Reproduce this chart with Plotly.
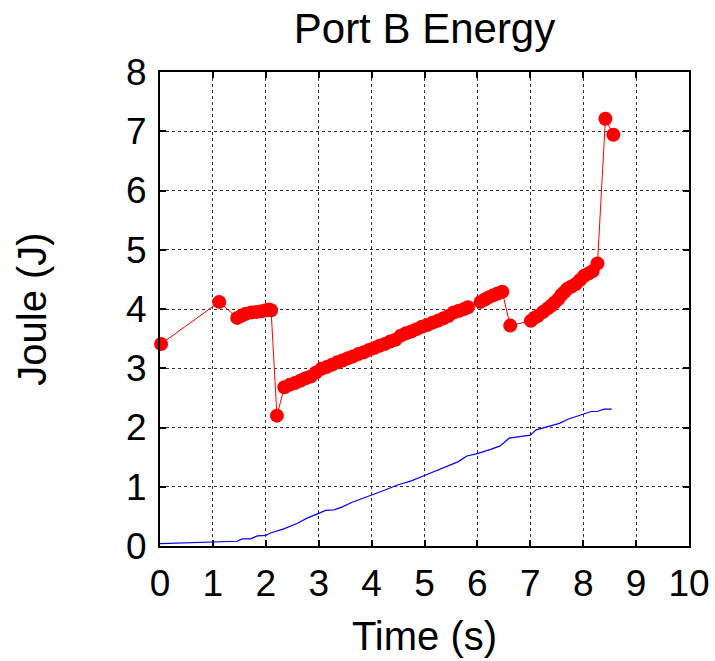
import plotly.graph_objects as go

# Red series (marker + thin line)
red_t = [0.02, 1.12, 1.46, 1.55, 1.62, 1.72, 1.82, 1.92, 2.00, 2.06, 2.10, 2.21,
         2.35, 2.45, 2.55, 2.65, 2.75, 2.85, 2.95, 3.05, 3.15, 3.25, 3.35, 3.45,
         3.55, 3.65, 3.75, 3.85, 3.95, 4.05, 4.15, 4.25, 4.35, 4.45, 4.55, 4.65,
         4.75, 4.85, 4.95, 5.05, 5.15, 5.25, 5.35, 5.45, 5.55, 5.65, 5.75, 5.82,
         6.06, 6.14, 6.22, 6.30, 6.38, 6.47, 6.62,
         7.01, 7.08, 7.14, 7.24, 7.33, 7.40, 7.46, 7.53, 7.59, 7.65, 7.70, 7.78,
         7.86, 7.94, 8.02, 8.10, 8.18, 8.27, 8.42, 8.57]
red_e = [3.41, 4.12, 3.85, 3.89, 3.92, 3.94, 3.95, 3.96, 3.98, 3.99, 3.98, 2.20,
         2.68, 2.72, 2.75, 2.79, 2.83, 2.86, 2.93, 2.99, 3.02, 3.06, 3.10, 3.13,
         3.17, 3.20, 3.24, 3.27, 3.31, 3.34, 3.38, 3.41, 3.45, 3.48, 3.55, 3.59,
         3.62, 3.66, 3.70, 3.73, 3.77, 3.80, 3.84, 3.88, 3.94, 3.97, 4.00, 4.03,
         4.12, 4.16, 4.20, 4.23, 4.26, 4.29, 3.72,
         3.80, 3.85, 3.88, 3.95, 4.01, 4.06, 4.11, 4.17, 4.24, 4.29, 4.34, 4.38,
         4.42, 4.49, 4.56, 4.60, 4.64, 4.77, 7.21, 6.94]

# Blue series (thin line)
blue_t = [0.00, 1.00, 1.46, 1.55, 1.71, 1.84, 2.00, 2.09, 2.34, 2.59, 2.78, 3.00,
          3.13, 3.29, 3.45, 3.61, 3.80, 4.00, 4.24, 4.49, 4.75, 5.00, 5.31, 5.63,
          5.80, 6.00, 6.25, 6.43, 6.60, 7.00, 7.11, 7.33, 7.55, 7.71, 8.00, 8.15,
          8.26, 8.40, 8.54]
blue_e = [0.04, 0.07, 0.08, 0.12, 0.12, 0.17, 0.18, 0.22, 0.29, 0.38, 0.47, 0.55,
          0.60, 0.61, 0.66, 0.73, 0.79, 0.86, 0.94, 1.03, 1.10, 1.19, 1.30, 1.42,
          1.52, 1.56, 1.63, 1.69, 1.82, 1.87, 1.96, 2.01, 2.07, 2.14, 2.23, 2.27,
          2.27, 2.31, 2.31]

x_ticks = list(range(0, 11))
y_ticks = list(range(0, 9))

FONT = "Liberation Sans, Arial, sans-serif"

fig = go.Figure()
fig.add_trace(go.Scatter(
    x=red_t, y=red_e, mode="lines+markers",
    line=dict(color="#ff0000", width=1),
    marker=dict(color="#ff0000", size=14),
    cliponaxis=False, showlegend=False,
))
fig.add_trace(go.Scatter(
    x=blue_t, y=blue_e, mode="lines",
    line=dict(color="#0000ff", width=1.2),
    showlegend=False,
))

axis_common = dict(
    showline=True, linecolor="black", linewidth=2, mirror="ticks",
    ticks="inside", ticklen=6, tickwidth=2, tickcolor="black",
    showgrid=True, gridcolor="#333333", gridwidth=1, griddash="dot",
    zeroline=False, automargin=False,
    tickfont=dict(family=FONT, size=37, color="black"),
)

fig.update_layout(
    width=715, height=661,
    margin=dict(l=160, r=26, t=72, b=115),
    paper_bgcolor="white", plot_bgcolor="white",
    title=dict(text="Port B Energy", xref="paper", x=0.5, xanchor="center",
               yref="container", y=0.957, yanchor="middle",
               font=dict(family=FONT, size=42, color="black")),
    xaxis=dict(range=[0, 10], tickvals=x_ticks, ticktext=[str(v) for v in x_ticks],
               ticklabelstandoff=4,
               title=dict(text="Time (s)", font=dict(family=FONT, size=40, color="black"),
                          standoff=19),
               **axis_common),
    yaxis=dict(range=[0, 8], tickvals=y_ticks, ticktext=[str(v) for v in y_ticks],
               ticklabelstandoff=4,
               title=dict(text="Joule (J)", font=dict(family=FONT, size=40, color="black"),
                          standoff=67),
               **axis_common),
)

fig.write_html(
    "out.html",
    config={"displayModeBar": False},
    post_script="document.body.style.margin='0';document.body.style.overflow='hidden';",
)
